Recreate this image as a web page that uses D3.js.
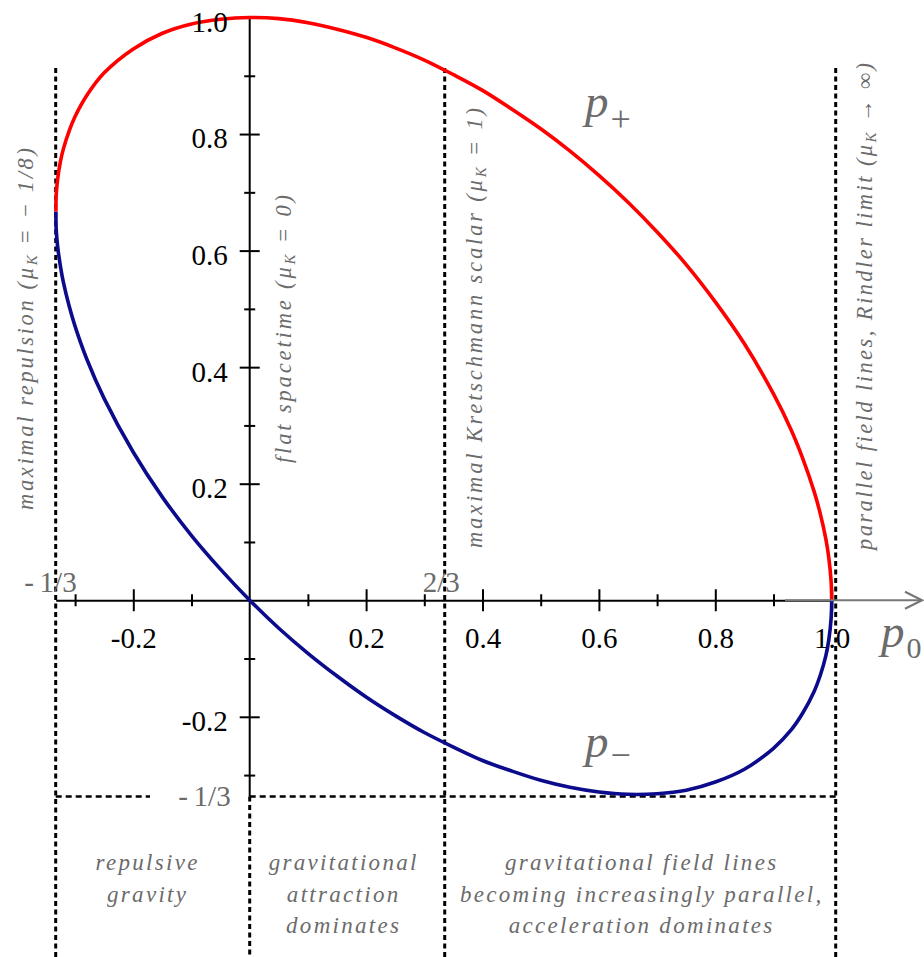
<!DOCTYPE html>
<html>
<head>
<meta charset="utf-8">
<script src="https://cdn.jsdelivr.net/npm/d3@7"></script>
<style>
  body { margin: 0; background: #fff; }
  svg { display: block; }
  svg text { font-family: "Liberation Serif", "Times New Roman", Times, serif; }
</style>
</head>
<body>
<div id="chart"></div>
<script>
// Kasner exponents
var p0Values = [-0.333, -0.3325, -0.33, -0.325, -0.32, -0.31, -0.30, -0.28, -0.25, -0.2,
    -0.15, -0.1, -0.05, 0, 0.05, 0.1, 0.15, 0.2, 0.25, 0.3,
    0.35, 0.4, 0.45, 0.5, 0.55, 0.6, 0.65, 0.7, 0.75, 0.8,
    0.85, 0.9, 0.93, 0.95, 0.97, 0.98, 0.99, 0.995, 0.999, 1.0];
var pPlusValues = [0.667, 0.695, 0.723, 0.754, 0.775, 0.806, 0.830, 0.866, 0.905, 0.946,
    0.973, 0.989, 0.997, 1.000, 0.998, 0.991, 0.980, 0.966, 0.948, 0.927,
    0.902, 0.875, 0.843, 0.809, 0.771, 0.729, 0.683, 0.632, 0.576, 0.512,
    0.440, 0.354, 0.293, 0.244, 0.186, 0.150, 0.105, 0.073, 0.032, 0];
var pMinusValues = [0.667, 0.637, 0.607, 0.572, 0.545, 0.504, 0.470, 0.414, 0.346, 0.254,
    0.177, 0.111, 0.053, 0, -0.048, -0.091, -0.130, -0.166, -0.198, -0.227,
    -0.252, -0.275, -0.293, -0.309, -0.321, -0.329, -0.333, -0.332, -0.326, -0.312,
    -0.290, -0.254, -0.223, -0.194, -0.156, -0.130, -0.095, -0.068, -0.031, 0];

var xTickValues = [-0.2, 0.2, 0.4, 0.6, 0.8, 1.0];
var xMinorTicks = [-0.3, -0.1, 0.1, 0.3, 0.5, 0.7, 0.9];
var yTickValues = [-0.2, 0.2, 0.4, 0.6, 0.8, 1.0];
var yMinorTicks = [-0.3, -0.1, 0.1, 0.3, 0.5, 0.7, 0.9];

// boundaries between regimes (p0) and their vertical captions
var boundaryP0 = [-1 / 3, 0, 1 / 3, 1];
var boundaryCaptions = [
    { pre: "maximal repulsion (\u03BC", sub: "K", post: " = \u2212 1/8)" },
    { pre: "flat spacetime (\u03BC", sub: "K", post: " = 0)" },
    { pre: "maximal Kretschmann scalar (\u03BC", sub: "K", post: " = 1)" },
    { pre: "parallel field lines, Rindler limit (\u03BC", sub: "K", post: " \u2192 \u221E)" }
];
var regionTexts = [
    ["repulsive", "gravity"],
    ["gravitational", "attraction", "dominates"],
    ["gravitational field lines", "becoming increasingly parallel,", "acceleration dominates"]
];

var width = 924, height = 957;
var grey = "#6b6b6b";

var x = d3.scaleLinear().domain([-1 / 3, 1]).range([55.7, 831.7]);
var y = d3.scaleLinear().domain([-1 / 3, 1]).range([794.5, 17.5]);

var svg = d3.select("#chart").append("svg")
    .attr("width", width)
    .attr("height", height);

// dotted boundary lines
var bx = boundaryP0.map(x);
bx[2] += 1;
bx[3] += 4;
var yMin = y(-1 / 3) + 2;
[0, 2, 3].forEach(function (i) {
    svg.append("line")
        .attr("x1", bx[i]).attr("x2", bx[i])
        .attr("y1", 68).attr("y2", height)
        .attr("stroke", "#000").attr("stroke-width", 3)
        .attr("stroke-dasharray", "5,3.5");
});
svg.append("line")
    .attr("x1", bx[1]).attr("x2", bx[1])
    .attr("y1", yMin).attr("y2", height)
    .attr("stroke", "#000").attr("stroke-width", 3)
    .attr("stroke-dasharray", "5,3.5");
// p = -1/3 level
svg.append("line")
    .attr("x1", bx[0]).attr("x2", 150).attr("y1", yMin).attr("y2", yMin)
    .attr("stroke", "#000").attr("stroke-width", 2.5).attr("stroke-dasharray", "6,4");
svg.append("line")
    .attr("x1", bx[1]).attr("x2", bx[3]).attr("y1", yMin).attr("y2", yMin)
    .attr("stroke", "#000").attr("stroke-width", 2.5).attr("stroke-dasharray", "6,4");

// axes (lines and ticks)
var xAxis = svg.append("g")
    .attr("transform", "translate(0," + y(0) + ")")
    .call(d3.axisBottom(x).tickValues(xTickValues).tickSize(11).tickSizeOuter(0).tickFormat(""));
xAxis.selectAll(".tick line").attr("y1", -11).attr("stroke-width", 2);
xAxis.select(".domain").attr("stroke-width", 2);
var xMinor = svg.append("g")
    .attr("transform", "translate(0," + y(0) + ")")
    .call(d3.axisBottom(x).tickValues(xMinorTicks).tickSize(6).tickFormat(""));
xMinor.select(".domain").remove();
xMinor.selectAll(".tick line").attr("y1", -6).attr("stroke-width", 2);

var yAxis = svg.append("g")
    .attr("transform", "translate(" + x(0) + ",0)")
    .call(d3.axisLeft(y).tickValues(yTickValues).tickSize(10).tickSizeOuter(0).tickFormat(""));
yAxis.selectAll(".tick line").attr("x1", 10).attr("stroke-width", 2);
yAxis.select(".domain").attr("stroke-width", 2).attr("d", "M0," + y(1) + "V" + yMin);
var yMinor = svg.append("g")
    .attr("transform", "translate(" + x(0) + ",0)")
    .call(d3.axisLeft(y).tickValues(yMinorTicks).tickSize(5.5).tickFormat(""));
yMinor.select(".domain").remove();
yMinor.selectAll(".tick line").attr("x1", 5.5).attr("stroke-width", 2);

// curves
var points = p0Values.map(function (p, i) {
    return { p0: p, plus: pPlusValues[i], minus: pMinusValues[i] };
});
var curve = d3.curveCatmullRom.alpha(0.5);
svg.append("path")
    .datum(points)
    .attr("fill", "none").attr("stroke", "#0b0b8c").attr("stroke-width", 3.6)
    .attr("d", d3.line().curve(curve).x(d => x(d.p0)).y(d => y(d.minus)));
svg.append("path")
    .datum(points)
    .attr("fill", "none").attr("stroke", "#ff0000").attr("stroke-width", 3.6)
    .attr("d", d3.line().curve(curve).x(d => x(d.p0)).y(d => y(d.plus)));

// grey arrow continuing the p0 axis
svg.append("line")
    .attr("x1", 785).attr("x2", 922).attr("y1", y(0)).attr("y2", y(0))
    .attr("stroke", "#777").attr("stroke-width", 2.2);
svg.append("path")
    .attr("d", "M905," + (y(0) - 8.5) + "L922," + y(0) + "L905," + (y(0) + 8.5))
    .attr("fill", "none").attr("stroke", "#777").attr("stroke-width", 2.2);

// tick labels, drawn above the curves
var fmt = d => d3.format(".1f")(d).replace("\u2212", "-");
var xLabels = svg.append("g")
    .attr("transform", "translate(0," + y(0) + ")")
    .call(d3.axisBottom(x).tickValues(xTickValues).tickSize(0).tickPadding(27.5).tickFormat(fmt));
xLabels.select(".domain").remove();
xLabels.attr("font-family", null).attr("font-size", 29);
xLabels.selectAll("text").attr("fill", "#000");

var yLabels = svg.append("g")
    .attr("transform", "translate(" + x(0) + ",0)")
    .call(d3.axisLeft(y).tickValues(yTickValues).tickSize(0).tickPadding(22).tickFormat(fmt));
yLabels.select(".domain").remove();
yLabels.attr("font-family", null).attr("font-size", 29);
yLabels.selectAll("text").attr("fill", "#000").attr("dy", "0.48em");

// fraction markers
function greyText(tx, ty, anchor, str) {
    svg.append("text")
        .attr("x", tx).attr("y", ty)
        .attr("text-anchor", anchor)
        .attr("font-size", 29).attr("fill", grey)
        .text(str);
}
greyText(x(-1 / 3) + 21, y(0) - 8, "end", "-\u20091/3");
greyText(x(1 / 3) - 21, y(0) - 8, "start", "2/3");
greyText(x(0) - 19, yMin + 9, "end", "-\u20091/3");

// series and axis names
function mathLabel(tx, ty, sub, subDy, subSize) {
    var t = svg.append("text")
        .attr("x", tx).attr("y", ty)
        .attr("fill", grey);
    t.append("tspan").attr("font-size", 47).attr("font-style", "italic").text("p");
    t.append("tspan").attr("font-size", subSize).attr("dy", subDy).attr("dx", 2).text(sub);
}
mathLabel(585, 117, "+", 14, 36);
mathLabel(585, 757, "\u2212", 10, 36);
mathLabel(881, 647, "0", 11, 30);

// vertical captions along the boundary lines
var captionLayout = [
    { dx: -23, cy: 329, len: 362 },
    { dx: 41, cy: 329, len: 268 },
    { dx: 37, cy: 328, len: 440 },
    { dx: 36, cy: 306.5, len: 487 }
];
boundaryCaptions.forEach(function (c, i) {
    var L = captionLayout[i];
    var t = svg.append("text")
        .attr("transform", "translate(" + (bx[i] + L.dx) + "," + L.cy + ") rotate(-90)")
        .attr("text-anchor", "middle")
        .attr("font-size", 22.5).attr("font-style", "italic").attr("fill", grey)
        .attr("textLength", L.len).attr("lengthAdjust", "spacing");
    t.append("tspan").text(c.pre);
    t.append("tspan").attr("font-size", 15).attr("dy", 4).text(c.sub);
    t.append("tspan").attr("dy", -4).text(c.post);
});

// regime descriptions below the diagram
var regionCenters = [x(-1 / 6) - 5, x(1 / 6) - 3, x(2 / 3) + 4];
regionTexts.forEach(function (lines, i) {
    var t = svg.append("text")
        .attr("text-anchor", "middle")
        .attr("font-size", 23).attr("font-style", "italic").attr("fill", grey)
        .attr("letter-spacing", 2.3);
    lines.forEach(function (line, j) {
        t.append("tspan")
            .attr("x", regionCenters[i])
            .attr("y", 870 + j * 31.5)
            .text(line);
    });
});
</script>
</body>
</html>
